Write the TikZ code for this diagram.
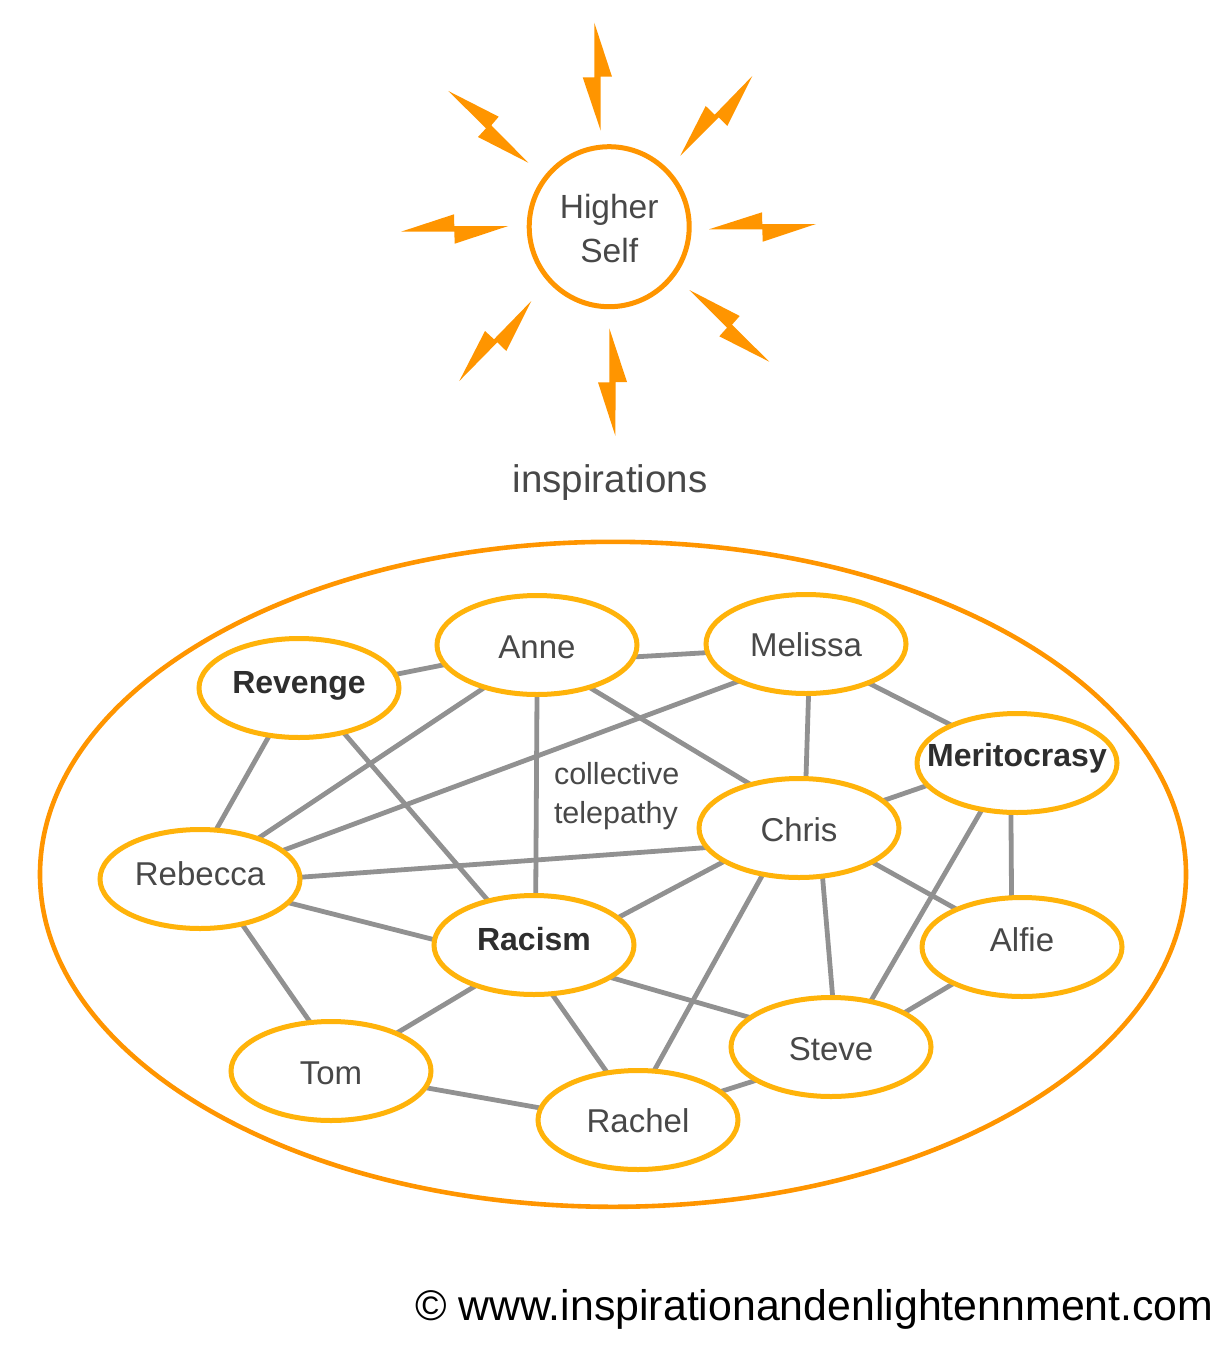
\documentclass[tikz,border=0pt]{standalone}
\usepackage{fontspec}
\setmainfont{Liberation Sans}
\usetikzlibrary{shapes.geometric,backgrounds}
\definecolor{sunorange}{HTML}{FF9500}
\definecolor{nodeamber}{HTML}{FFB30A}
\definecolor{edgegrey}{HTML}{919191}
\definecolor{labelgrey}{HTML}{484848}
\definecolor{boldgrey}{HTML}{2E2E2E}
\newcommand{\lab}[2]{\makebox[0pt]{\raisebox{#1pt}[0pt][0pt]{#2}}}
\tikzset{
  person/.style={ellipse,draw=nodeamber,line width=5pt,fill=white,minimum width=200pt,minimum height=99pt,inner sep=0pt,outer sep=0pt,text=labelgrey,font=\fontsize{33}{40}\selectfont},
  idea/.style={person,text=boldgrey,font=\fontsize{32}{40}\selectfont\bfseries},
  link/.style={draw=edgegrey,line width=4.8pt},
  bolt/.style={fill=sunorange,draw=none},
  caption/.style={inner sep=0pt,outer sep=0pt,text=labelgrey}
}
\begin{document}
\begin{tikzpicture}[x=1pt,y=-1pt]
\useasboundingbox (0,0) rectangle (1231,1359);
% enclosing ellipse
\node[ellipse,draw=sunorange,line width=4.6pt,minimum width=1146pt,minimum height=665pt,inner sep=0pt,outer sep=0pt] (group) at (613,874.3) {};
% sun
\node[circle,draw=sunorange,line width=5pt,minimum size=160pt,inner sep=0pt,outer sep=0pt,text=labelgrey,font=\fontsize{33.5}{40}\selectfont] (self) at (609.2,226.7) {\lab{8.2}{Higher}\lab{-35.3}{Self}};
\fill[bolt] (594.3,22.7) -- (612,76.7) -- (600.7,76.7) -- (600.7,130.7) -- (582.7,77.3) -- (594.3,77.3) -- cycle;
\fill[bolt] (448.3,91) -- (498.7,116.7) -- (491.3,125.3) -- (528.3,162.7) -- (478,137) -- (486,128.3) -- cycle;
\fill[bolt] (752.3,76) -- (727.3,126) -- (718.7,117.3) -- (680.3,155.7) -- (705.7,106) -- (714.7,114.7) -- cycle;
\fill[bolt] (401,231.7) -- (454,214.3) -- (454.3,226) -- (508.3,226) -- (454.7,243.7) -- (454.3,231.7) -- cycle;
\fill[bolt] (709,229.3) -- (762,212.3) -- (762.3,224) -- (816,224) -- (762.7,241.7) -- (762.3,229.3) -- cycle;
\fill[bolt] (531.3,301) -- (506.3,351) -- (497.3,342.3) -- (459.3,381) -- (485,331) -- (494,339.3) -- cycle;
\fill[bolt] (609.3,328.3) -- (627,382) -- (615.7,382) -- (615.3,435.7) -- (598,382.3) -- (609.3,382.3) -- cycle;
\fill[bolt] (689.3,290) -- (739.7,316) -- (732,324.7) -- (769.3,361.7) -- (719.3,336.3) -- (727,327.7) -- cycle;
\node[caption,anchor=base,font=\fontsize{38.5}{44}\selectfont] (insp) at (610,492) {inspirations};
% people and ideas
\node[idea]   (revenge) at (299,688)  {\lab{-5}{Revenge}};
\node[person] (anne)    at (537,645)  {\lab{-13}{Anne}};
\node[person] (melissa) at (806,644)  {\lab{-12.7}{Melissa}};
\node[idea]   (merit)   at (1017,763) {\lab{-3.7}{Meritocrasy}};
\node[person] (chris)   at (799,828)  {\lab{-13.7}{Chris}};
\node[person] (rebecca) at (200,879)  {\lab{-6.5}{Rebecca}};
\node[idea]   (racism)  at (534,945)  {\lab{-5}{Racism}};
\node[person] (alfie)   at (1022,947) {\lab{-4.7}{Alfie}};
\node[person] (steve)   at (831,1047) {\lab{-13}{Steve}};
\node[person] (tom)     at (331,1071) {\lab{-13}{Tom}};
\node[person] (rachel)  at (638,1120) {\lab{-12.7}{Rachel}};
\node[caption,anchor=south west,align=left,font=\fontsize{30.5}{39.5}\selectfont] (tele) at (554,830) {collective\\telepathy};
\node[inner sep=0pt,outer sep=0pt,anchor=base west,text=black,font=\fontsize{42.85}{50}\selectfont] (copy) at (415,1320) {© www.inspirationandenlightennment.com};
\begin{scope}[on background layer]
\path[link] (revenge.8.7) -- (anne.192.3);
\path[link] (anne.353.2) -- (melissa.185.1);
\path[link] (melissa.328.8) -- (merit.150.4);
\path[link] (revenge.238.5) -- (rebecca.72.3);
\path[link] (revenge.315.6) -- (racism.136.2);
\path[link] (anne.219.7) -- (rebecca.35.7);
\path[link] (anne.270) -- (racism.88.9);
\path[link] (anne.321) -- (chris.138.7);
\path[link] (melissa.209.8) -- (rebecca.19.9);
\path[link] (melissa.273.4) -- (chris.82);
\path[link] (merit.194.3) -- (chris.18.2);
\path[link] (merit.263.3) -- (alfie.102.4);
\path[link] (merit.233.7) -- (steve.49);
\path[link] (chris.192.6) -- (rebecca.1.1);
\path[link] (chris.204.7) -- (racism.18);
\path[link] (chris.232.4) -- (rachel.72.6);
\path[link] (chris.296.6) -- (steve.88.9);
\path[link] (chris.335.9) -- (alfie.150.9);
\path[link] (alfie.208.5) -- (steve.25);
\path[link] (racism.177.2) -- (rebecca.345.1);
\path[link] (racism.337.7) -- (steve.160.7);
\path[link] (racism.215) -- (tom.30.6);
\path[link] (racism.290.8) -- (rachel.123.7);
\path[link] (rebecca.313.7) -- (tom.113.2);
\path[link] (tom.350.1) -- (rachel.173);
\path[link] (rachel.19) -- (steve.204.1);
\end{scope}
\end{tikzpicture}
\end{document}
